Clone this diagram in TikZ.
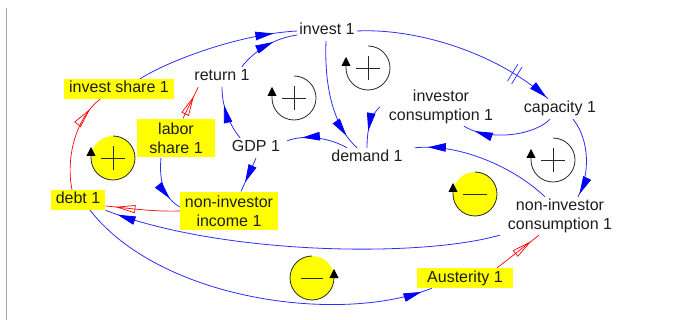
\documentclass[tikz,border=0pt]{standalone}
\usepackage{fontspec}
\setmainfont{Liberation Sans}
\usetikzlibrary{arrows.meta,decorations.markings}
\definecolor{lnkblue}{RGB}{45,45,255}
\definecolor{headblue}{RGB}{0,0,255}
\definecolor{vyellow}{RGB}{255,255,0}
\definecolor{txt}{RGB}{30,30,30}
\definecolor{loopc}{RGB}{40,40,40}
\tikzset{
  hb/.tip={Triangle[length=18pt,width=8.5pt,color=headblue]},
  hr/.tip={Triangle[open,length=20pt,width=8pt,color=red]},
  lt/.tip={Triangle[length=9pt,width=9pt,color=black]},
  var/.style={text=txt, inner sep=2pt, text height=12pt, text depth=4pt},
  var2/.style={text=txt, inner sep=2pt, align=center},
  ybox1/.style={text=txt, fill=vyellow, inner xsep=5pt, inner ysep=2pt, text height=12pt, text depth=4pt},
  ybox2/.style={text=txt, fill=vyellow, inner xsep=5pt, inner ysep=4pt, align=center},
  bl/.style={draw=lnkblue, line width=0.8pt, postaction={decorate, decoration={markings, mark=at position #1 with {\arrow{hb}}}}},
  rl/.style={draw=red, line width=0.7pt, postaction={decorate, decoration={markings, mark=at position #1 with {\arrow{hr}}}}},
  loopline/.style={draw=loopc, line width=0.8pt},
  signline/.style={draw=loopc, line width=0.8pt}
}
\begin{document}
\begin{tikzpicture}[x=1pt,y=-1pt,font=\fontsize{16}{19}\selectfont]
\useasboundingbox (0,0) rectangle (679,320);
\fill[white] (0,0) rectangle (679,320);
\draw[gray!70, line width=0.8pt] (6,8) -- (6,320);

% variables
\node[var] (invest) at (327,31) {invest 1};
\node[var] (return) at (222,77) {return 1};
\node[ybox1] (ishare) at (119,89) {invest share 1};
\node[ybox2, minimum width=78pt] (labor) at (176,138) {labor\\share 1};
\node[var] (gdp) at (256,148) {GDP 1};
\node[var] (demand) at (367,158) {demand 1};
\node[var2] (icons) at (441,107) {investor\\consumption 1};
\node[var] (capacity) at (560,109) {capacity 1};
\node[var2] (nicons) at (560,216) {non-investor\\consumption 1};
\node[ybox2] (niincome) at (229,211) {non-investor\\income 1};
\node[ybox1] (debt) at (78,200) {debt 1};
\node[ybox1, minimum width=96pt] (aust) at (465,278) {Austerity 1};

% loop symbols
\coordinate (lA) at (368,68);
\coordinate (lB) at (294,98);
\coordinate (lC) at (553,160);
\coordinate (lD) at (113,158);
\coordinate (lE) at (475,194);
\coordinate (lF) at (312,278);
\fill[vyellow] (lD) circle[radius=22pt];
\fill[vyellow] (lE) circle[radius=22pt];
\fill[vyellow] (lF) circle[radius=22pt];
\foreach \c in {lA,lB,lC,lD,lE}{
  \draw[loopline,-{lt}] ([shift={(0pt,22pt)}]\c) arc[start angle=90, end angle=-180, radius=22pt] -- ++(0pt,11pt);
}
\draw[loopline,-{lt}] ([shift={(0pt,22pt)}]lF) arc[start angle=90, end angle=360, radius=22pt] -- ++(0pt,9pt);
\foreach \c in {lA,lB,lC,lD}{
  \draw[signline] ([xshift=-12pt]\c) -- ([xshift=12pt]\c);
  \draw[signline] ([yshift=-12pt]\c) -- ([yshift=12pt]\c);
}
\draw[signline] ([xshift=-12pt]lE) -- ([xshift=12pt]lE);
\draw[signline] ([xshift=-11pt]lF) -- ([xshift=11pt]lF);

% blue links
\draw[bl=-24pt] ([xshift=21pt]ishare.north) .. controls (170,60) and (240,34) .. (invest.west);
\draw[bl=-25pt] ([xshift=-10pt]return.north east) .. controls (255,50) and (275,38) .. ([yshift=-4pt]invest.west);
\draw[bl=-2pt, postaction={decorate, decoration={markings, mark=at position 0.8 with {\draw[lnkblue, line width=0.7pt] (-2.5pt,-10pt) -- (-2.5pt,10pt) (2.5pt,-10pt) -- (2.5pt,10pt);}}}]
  (invest.east) .. controls (420,28) and (500,55) .. ([xshift=-12pt]capacity.north);
\draw[bl=-16pt] ([xshift=-1pt]invest.south) .. controls (324,90) and (335,128) .. ([xshift=-10pt]demand.north);
\draw[bl=-17pt] ([xshift=-7pt]icons.west) .. controls (371,115) and (367,128) .. (demand.north);
\draw[bl=-12pt] ([xshift=-10pt]capacity.south) .. controls (535,135) and (490,142) .. (icons.-40);
\draw[bl=-3pt] ([xshift=13pt]capacity.south) .. controls (590,140) and (590,175) .. ([xshift=18pt]nicons.north);
\draw[bl=-13pt] ([xshift=-15pt]nicons.north) .. controls (515,168) and (460,143) .. ([xshift=10pt]demand.north east);
\draw[bl=-15pt] ([xshift=-20pt]demand.north) .. controls (330,138) and (305,134) .. ([xshift=5pt,yshift=-3pt]gdp.north east);
\draw[bl=-18pt] ([xshift=-16pt]gdp.north) .. controls (228,123) and (222,105) .. (return.south);
\draw[bl=-10pt] (gdp.south) -- ([xshift=12pt]niincome.north);
\draw[bl=-13pt] ([xshift=-15pt]labor.south) .. controls (159,180) and (163,197) .. ([yshift=4pt]niincome.west);
\draw[bl=-13pt] ([xshift=-6pt]nicons.south west) .. controls (420,258) and (220,255) .. (debt.south east);
\draw[bl=-11pt] ([xshift=12pt]debt.south) .. controls (160,300) and (340,325) .. ([xshift=15pt]aust.south west);

% red links
\draw[rl=-10pt] (niincome.west) .. controls (150,212) and (120,207) .. ([yshift=-6pt]debt.east);
\draw[rl=-10pt] ([xshift=-16pt]aust.north east) -- ([xshift=-21pt]nicons.south);
\draw[rl=-14pt] ([xshift=-6pt]debt.north) .. controls (66,160) and (74,120) .. ([xshift=-19pt]ishare.south);
\draw[rl=-10pt] ([xshift=7pt]labor.north) -- ([xshift=6pt]return.south west);
\end{tikzpicture}
\end{document}
